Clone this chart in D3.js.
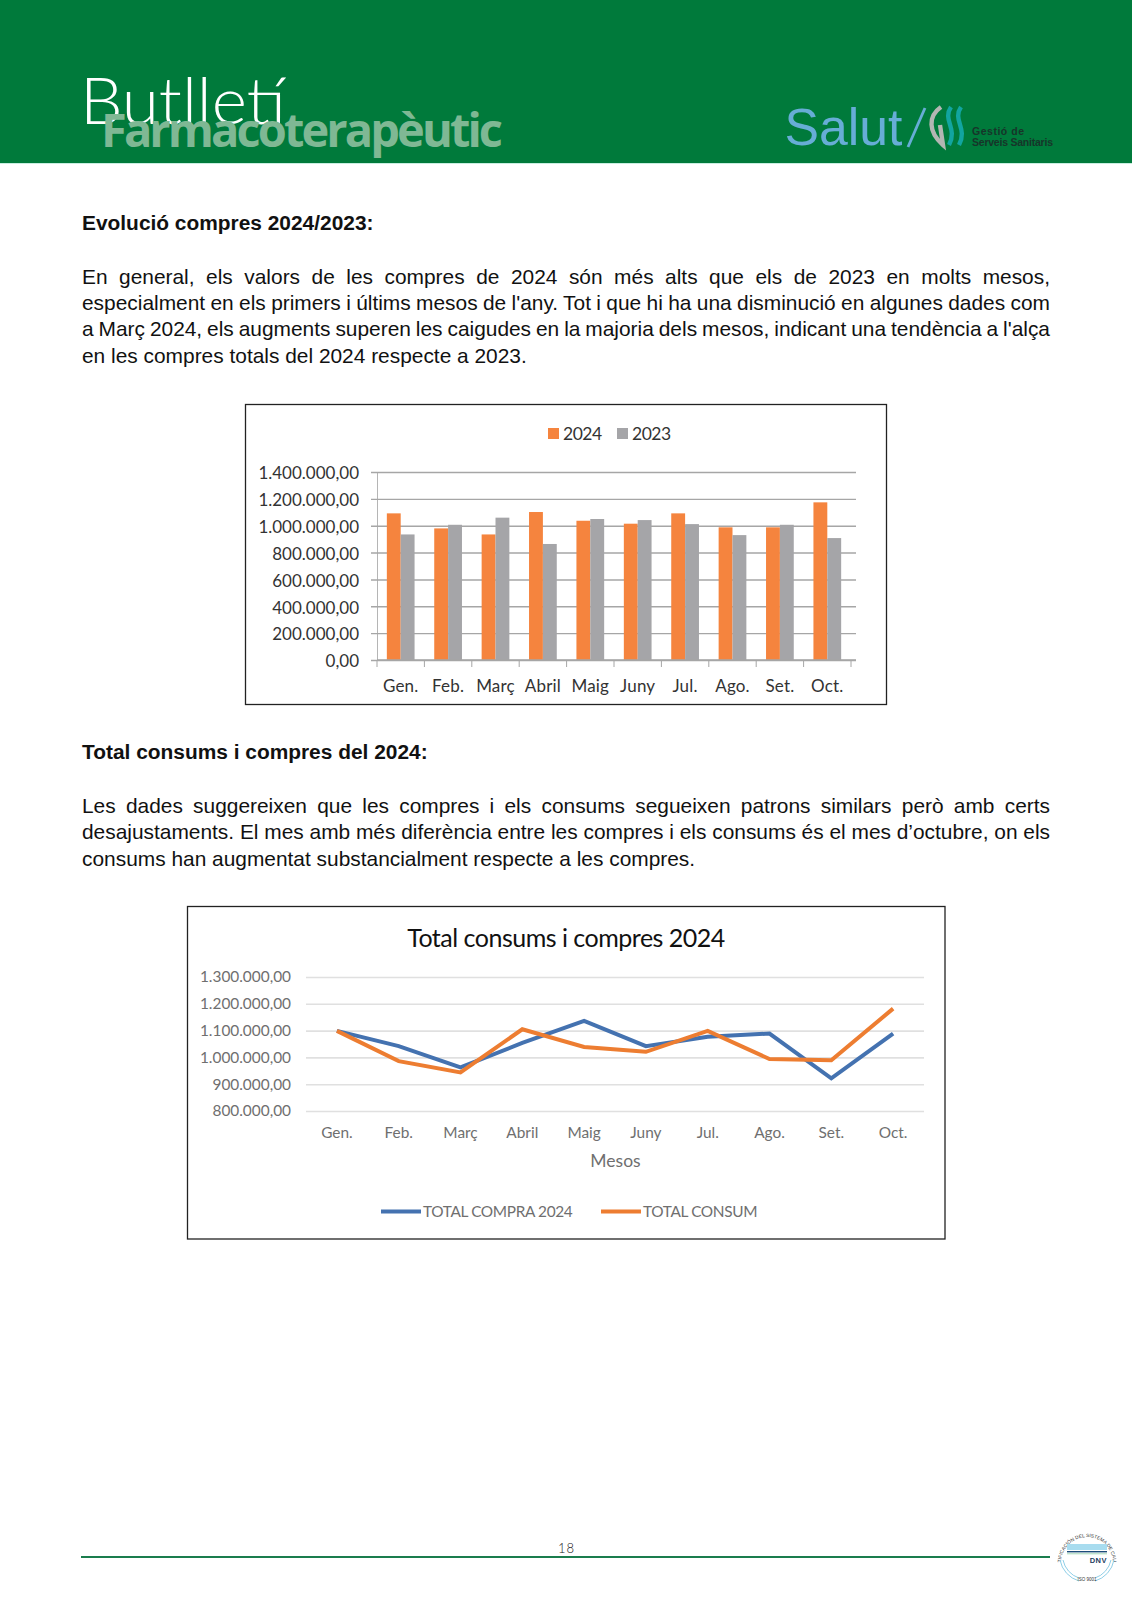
<!DOCTYPE html>
<html><head><meta charset="utf-8">
<script src="https://cdn.jsdelivr.net/npm/d3@7/dist/d3.min.js"></script>
<style>
html,body{margin:0;padding:0;background:#fff}
#page{position:relative;width:1132px;height:1600px;overflow:hidden}
svg{position:absolute;left:0;top:0}
.ln{position:absolute;left:82px;font:20.9px/26px "Liberation Sans",Arial,sans-serif;color:#111;white-space:nowrap}
.ln.b{font-weight:bold}
</style></head><body><div id="page"><svg id="s" width="1132" height="1600"></svg></div>
<script>
const months=["Gen.","Feb.","Març","Abril","Maig","Juny","Jul.","Ago.","Set.","Oct."];
const bars2024=[1092000,980000,935000,1102000,1037000,1015000,1092000,988000,988000,1174000];
const bars2023=[935000,1007000,1060000,864000,1050000,1042000,1012000,930000,1007000,908000];
const totalCompra=[1099000,1042000,963000,1054000,1136000,1042000,1077000,1089000,922000,1089000];
const totalConsum=[1099000,986000,944000,1105000,1039000,1021000,1099000,994000,989000,1182000];
const barTicks=[0,200000,400000,600000,800000,1000000,1200000,1400000];
const lineTicks=[800000,900000,1000000,1100000,1200000,1300000];
const bodyLines=[
 {t:"Evolució compres 2024/2023:",y:209.5,c:"b"},
 {t:"En general, els valors de les compres de 2024 són més alts que els de 2023 en molts mesos,",y:263.5,c:"j"},
 {t:"especialment en els primers i últims mesos de l'any. Tot i que hi ha una disminució en algunes dades com",y:290,c:"j"},
 {t:"a Març 2024, els augments superen les caigudes en la majoria dels mesos, indicant una tendència a l'alça",y:316,c:"j"},
 {t:"en les compres totals del 2024 respecte a 2023.",y:342.5,c:""},
 {t:"Total consums i compres del 2024:",y:738.5,c:"b"},
 {t:"Les dades suggereixen que les compres i els consums segueixen patrons similars però amb certs",y:792.5,c:"j"},
 {t:"desajustaments. El mes amb més diferència entre les compres i els consums és el mes d’octubre, on els",y:819,c:"j"},
 {t:"consums han augmentat substancialment respecte a les compres.",y:845.5,c:""}
];
const fmt=d3.formatLocale({decimal:",",thousands:".",grouping:[3],currency:["","€"]}).format(",.2f");
const page=d3.select("#page"),svg=d3.select("#s");
const CHART='Lato,"Open Sans",sans-serif';

// header
svg.append("rect").attr("width",1132).attr("height",163).attr("fill","#007a3b");
svg.append("rect").attr("y",163).attr("width",1132).attr("height",1).attr("fill","#c8eee0");
svg.append("text").text("Butlletí").attr("x",80).attr("y",124).attr("font-family","Lato").attr("font-weight",300).attr("font-size",65).attr("fill","#fff").attr("textLength",206).attr("lengthAdjust","spacingAndGlyphs");
svg.append("text").text("Farmacoterapèutic").attr("x",101).attr("y",147).attr("font-family","Open Sans").attr("font-weight",700).attr("font-size",47).attr("fill","#7fb894").attr("textLength",402).attr("lengthAdjust","spacing");
svg.append("text").text("Salut").attr("x",784.5).attr("y",145).attr("font-family","Liberation Sans").attr("font-size",52).attr("fill","#67add6").attr("textLength",118).attr("lengthAdjust","spacingAndGlyphs");
svg.append("path").attr("d","M908 147L925 108").attr("stroke","#67add6").attr("stroke-width",2.8).attr("fill","none");
const lg=svg.append("g").attr("fill","none").attr("stroke-width",4.4);
lg.append("path").attr("d","M941 107C928 116 928 132 943 145L940 125").attr("stroke","#b3b6b3");
lg.append("path").attr("d","M951 107C942 120 958 128 949 145").attr("stroke","#12a5a0");
lg.append("path").attr("d","M961 107C952 120 968 128 959 145").attr("stroke","#12a5a0");
svg.append("text").text("Gestió de").attr("x",972).attr("y",135).attr("font-family","Liberation Sans").attr("font-weight","bold").attr("font-size",10.5).attr("fill","#17352a").attr("textLength",52).attr("lengthAdjust","spacing");
svg.append("text").text("Serveis Sanitaris").attr("x",972).attr("y",146).attr("font-family","Liberation Sans").attr("font-weight","bold").attr("font-size",10.5).attr("fill","#17352a").attr("textLength",81).attr("lengthAdjust","spacing");

// body text: justified lines are fitted to the column through word spacing
const COL=968;
page.selectAll("div.ln").data(bodyLines).join("div").attr("class",d=>"ln "+d.c).style("top",d=>d.y+"px").text(d=>d.t)
 .each(function(d){
  if(d.c!=="j")return;
  const w=this.getBoundingClientRect().width;
  d3.select(this).style("word-spacing",((COL-w)/(d.t.split(" ").length-1))+"px");
 });

function box(x,y,w,h){svg.append("rect").attr("x",x).attr("y",y).attr("width",w).attr("height",h).attr("fill","#fff").attr("stroke","#222").attr("stroke-width",1.3);}

// bar chart
box(245.5,404.5,641,300);
{
 const x=d3.scaleBand().domain(months).range([377,851]).paddingInner(.415).paddingOuter(.2075);
 const y=d3.scaleLinear().domain([0,1400000]).range([660,472]);
 const g=svg.append("g");
 const ya=g.append("g").attr("transform","translate(377,0)").call(d3.axisLeft(y).tickValues(barTicks).tickFormat(fmt).tickSize(6).tickPadding(12));
 ya.select(".domain").attr("stroke","#b5b5b5");
 ya.selectAll(".tick line").attr("x1",-6).attr("x2",479).attr("stroke","#a6a6a6").attr("stroke-width",1.4);
 ya.selectAll("text").attr("font-family",CHART).attr("font-size",17).attr("dy","0.4em").attr("fill","#333");
 const bw=x.bandwidth()/2;
 g.selectAll(".a").data(months).join("rect").attr("x",d=>x(d)).attr("width",bw).attr("y",(d,i)=>y(bars2024[i])).attr("height",(d,i)=>660-y(bars2024[i])).attr("fill","#f5843e");
 g.selectAll(".b").data(months).join("rect").attr("x",d=>x(d)+bw).attr("width",bw).attr("y",(d,i)=>y(bars2023[i])).attr("height",(d,i)=>660-y(bars2023[i])).attr("fill","#a5a5a8");
 const xa=g.append("g").attr("transform","translate(0,660)").call(d3.axisBottom(x).tickSize(0).tickPadding(20));
 xa.select(".domain").remove();
 xa.selectAll("text").attr("font-family",CHART).attr("font-size",17).attr("letter-spacing","0.2px").attr("fill","#333");
 const step=x.step();
 g.selectAll(".sep").data(d3.range(11)).join("line").attr("x1",d=>377+d*step).attr("x2",d=>377+d*step).attr("y1",660).attr("y2",667).attr("stroke","#a6a6a6");
 g.append("line").attr("x1",377).attr("x2",856).attr("y1",660).attr("y2",660).attr("stroke","#a6a6a6").attr("stroke-width",1.4);
 const leg=[["2024","#f5843e",548],["2023","#a5a5a8",617]];
 leg.forEach(l=>{
  g.append("rect").attr("x",l[2]).attr("y",428).attr("width",11).attr("height",11).attr("fill",l[1]);
  g.append("text").text(l[0]).attr("x",l[2]+15).attr("y",439.5).attr("font-family",CHART).attr("font-size",17.5).attr("letter-spacing","-0.5px").attr("fill","#333");
 });
}

// line chart
box(187.5,906.5,757.5,332.5);
{
 const x=d3.scaleBand().domain(months).range([306,924]);
 const y=d3.scaleLinear().domain([800000,1300000]).range([1111,977]);
 const g=svg.append("g");
 const ya=g.append("g").attr("transform","translate(306,0)").call(d3.axisLeft(y).tickValues(lineTicks).tickFormat(fmt).tickSize(0).tickPadding(15));
 ya.select(".domain").remove();
 ya.selectAll(".tick line").attr("x2",618).attr("stroke","#e0e0e0").attr("stroke-width",1.6);
 ya.selectAll("text").attr("font-family",CHART).attr("font-size",15.4).attr("fill","#6f6f6f");
 const xa=g.append("g").attr("transform","translate(0,1111)").call(d3.axisBottom(x).tickSize(0).tickPadding(16));
 xa.select(".domain").remove();
 xa.selectAll("text").attr("font-family",CHART).attr("font-size",15.4).attr("fill","#6f6f6f");
 const line=d3.line().x(d=>x(d.m)+x.bandwidth()/2).y(d=>y(d.v));
 [[totalCompra,"#4472b0"],[totalConsum,"#ed7d31"]].forEach(([s,c])=>{
  g.append("path").datum(s.map((v,i)=>({m:months[i],v}))).attr("d",line).attr("fill","none").attr("stroke",c).attr("stroke-width",4).attr("stroke-linejoin","miter");
 });
 g.append("text").text("Total consums i compres 2024").attr("x",566).attr("y",947).attr("text-anchor","middle").attr("font-family",CHART).attr("font-size",25).attr("letter-spacing","-0.5px").attr("fill","#111");
 g.append("text").text("Mesos").attr("x",615.5).attr("y",1167).attr("text-anchor","middle").attr("font-family",CHART).attr("font-size",17.5).attr("fill","#6f6f6f");
 [["TOTAL COMPRA 2024","#4472b0",381],["TOTAL CONSUM","#ed7d31",601]].forEach(l=>{
  g.append("line").attr("x1",l[2]).attr("x2",l[2]+40).attr("y1",1211.5).attr("y2",1211.5).attr("stroke",l[1]).attr("stroke-width",4);
  g.append("text").text(l[0]).attr("x",l[2]+42).attr("y",1217).attr("font-family",CHART).attr("font-size",15.4).attr("letter-spacing","-0.35px").attr("fill","#6f6f6f");
 });
}

// footer
svg.append("line").attr("x1",81).attr("x2",1050).attr("y1",1557).attr("y2",1557).attr("stroke","#1a7d4d").attr("stroke-width",2);
svg.append("text").text("18").attr("x",566.5).attr("y",1553).attr("text-anchor","middle").attr("font-family","Lato").attr("font-weight",300).attr("font-size",13).attr("letter-spacing","1px").attr("fill","#222");
const cx=1087,cy=1555,r=27;
const defs=svg.append("defs");
defs.append("path").attr("id","arcT").attr("d",`M${cx-r+1} ${cy+8}A${r-3} ${r-3} 0 1 1 ${cx+r-1} ${cy+8}`);
svg.append("text").attr("font-family","Liberation Sans").attr("font-size",4.8).attr("fill","#333").append("textPath").attr("href","#arcT").attr("startOffset","50%").attr("text-anchor","middle").text("CERTIFICACIÓN DEL SISTEMA DE CALIDAD");
const blue=svg.append("g").attr("fill","none").attr("stroke","#8fcfe8");
blue.append("path").attr("d",`M${cx-r} ${cy+5}A${r} ${r} 0 0 0 ${cx-8} ${cy+r-1}M${cx+8} ${cy+r-1}A${r} ${r} 0 0 0 ${cx+r} ${cy+5}`).attr("stroke-width",1);
blue.append("path").attr("d",`M${cx-r+3} ${cy+5}A${r-3} ${r-3} 0 0 0 ${cx-8} ${cy+r-4}M${cx+8} ${cy+r-4}A${r-3} ${r-3} 0 0 0 ${cx+r-3} ${cy+5}`).attr("stroke-width",1);
svg.append("rect").attr("x",1067).attr("y",1544).attr("width",40).attr("height",6).attr("fill","#a8dcef");
svg.append("rect").attr("x",1067).attr("y",1551).attr("width",40).attr("height",1.4).attr("fill","#1d4d7a");
svg.append("rect").attr("x",1067).attr("y",1553).attr("width",40).attr("height",1.4).attr("fill","#bfe4cc");
svg.append("text").text("DNV").attr("x",1107).attr("y",1563).attr("text-anchor","end").attr("font-family","Liberation Sans").attr("font-weight","bold").attr("font-size",7.5).attr("letter-spacing",".5px").attr("fill","#24405f");
svg.append("text").text("ISO 9001").attr("x",cx).attr("y",1581).attr("text-anchor","middle").attr("font-family","Liberation Sans").attr("font-size",4.5).attr("fill","#333");
</script></body></html>
